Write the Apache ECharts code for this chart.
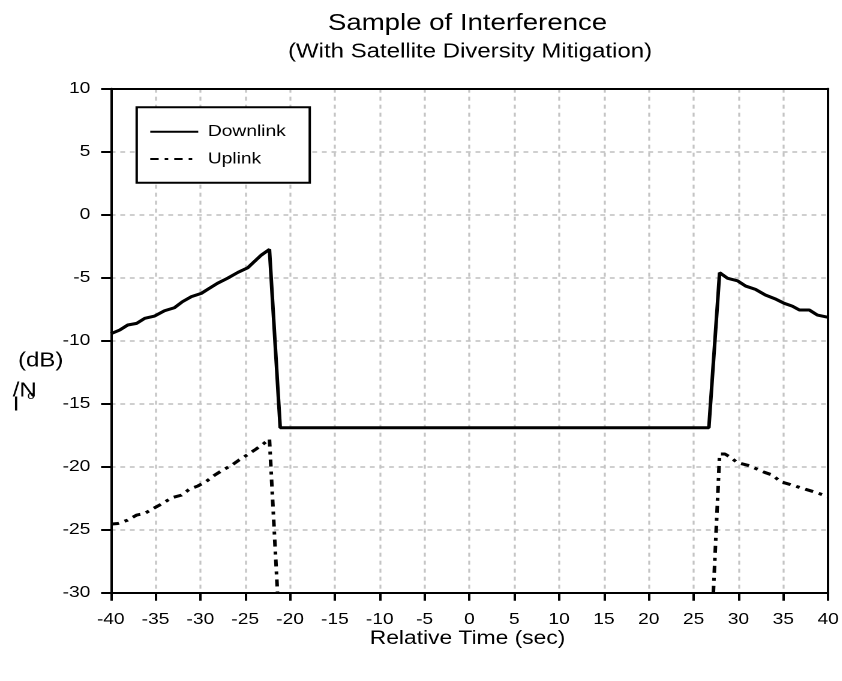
<!DOCTYPE html>
<html>
<head>
<meta charset="utf-8">
<title>Sample of Interference</title>
<script src="https://cdn.jsdelivr.net/npm/echarts@6/dist/echarts.min.js"></script>
<style>
  html, body { margin: 0; padding: 0; background: #fff; overflow: hidden; }
  /* The chart is laid out on a narrower canvas and widened 1.2x, giving the wide lettering of the plot. */
  #chart {
    position: absolute; left: 0; top: 0;
    width: 701.667px; height: 681px;
    transform: scaleX(1.2); transform-origin: 0 0;
  }
</style>
</head>
<body>
<div id="chart"></div>
<script>
// Relative time (sec) and I/No (dB) of the downlink trace
const downlinkTime  = [-40, -39.0, -38.1, -37.1, -36.2, -35.1, -34.0, -32.9, -32.0, -31.0,
                       -29.9, -29.0, -28.1, -27.0, -25.8, -24.7, -24.2, -23.2, -22.3, -21.1,
                       26.7, 27.9, 28.8, 29.9, 30.8, 31.9, 33.0, 34.2, 35.1, 36.0,
                       36.8, 37.9, 38.8, 40];
const downlinkLevel = [-9.45, -9.15, -8.75, -8.62, -8.22, -8.04, -7.62, -7.38, -6.9, -6.5,
                       -6.24, -5.84, -5.44, -5.05, -4.57, -4.2, -3.86, -3.2, -2.75, -16.9,
                       -16.9, -4.6, -5.05, -5.24, -5.66, -5.92, -6.37, -6.71, -7.03, -7.25,
                       -7.56, -7.56, -7.96, -8.14];

// Uplink trace: burst before the handover and burst after it
const uplinkEarlyTime  = [-40, -39.2, -38.1, -37.1, -36.2, -35.1, -34.2, -33.2, -32.1, -31.2,
                          -30.3, -29.4, -28.4, -27.5, -26.6, -25.7, -24.7, -23.8, -22.9, -22.3, -21.4];
const uplinkEarlyLevel = [-24.55, -24.5, -24.23, -23.83, -23.7, -23.25, -22.9, -22.46, -22.25, -21.77,
                          -21.53, -21.19, -20.66, -20.26, -19.92, -19.47, -19.02, -18.6, -18.14, -17.8, -30];
const uplinkLateTime   = [27.2, 27.9, 28.5, 29.0, 29.9, 31.0, 31.9, 32.9, 33.8, 34.7,
                          35.6, 36.6, 37.5, 38.4, 39.5, 40];
const uplinkLateLevel  = [-30, -18.99, -18.99, -19.2, -19.68, -19.87, -20.13, -20.44, -20.66, -21.19,
                          -21.37, -21.59, -21.79, -21.98, -22.25, -22.4];

// Axis ranges and tick spacing
const timeRange  = [-40, 40];
const levelRange = [-30, 10];
const tickStep   = 5;

const seriesNames = ['Downlink', 'Uplink'];
const titleText    = 'Sample of Interference';
const subtitleText = '(With Satellite Diversity Mitigation)';
const xAxisTitle   = 'Relative Time (sec)';

function zip(xs, ys) { return xs.map((x, i) => [x, ys[i]]); }

const downlinkData = zip(downlinkTime, downlinkLevel);
// a '-' entry breaks the uplink line between the two bursts
const uplinkData = zip(uplinkEarlyTime, uplinkEarlyLevel)
  .concat([[0, '-']])
  .concat(zip(uplinkLateTime, uplinkLateLevel));

const FONT = '"Liberation Sans", Arial, Helvetica, sans-serif';
const frameLine = { show: true, onZero: false, lineStyle: { color: '#000', width: 2 } };
const gridLine = { show: true, showMinLine: false, showMaxLine: false,
                   lineStyle: { color: '#c4c4c4', width: 1.6, type: [4, 4] } };
const tickLabel = { fontFamily: FONT, fontSize: 16, color: '#000', showMinLabel: true, showMaxLabel: true };

const chart = echarts.init(document.getElementById('chart'), null, { renderer: 'canvas', devicePixelRatio: 2 });

chart.setOption({
  animation: false,
  backgroundColor: '#fff',
  textStyle: { fontFamily: FONT, color: '#000' },
  grid: {
    left: 92.25, right: 9.17, top: 88.7, bottom: 88.2,
    show: false, containLabel: false
  },
  legend: {
    data: seriesNames,
    orient: 'vertical',
    left: 113.9, top: 107.3,
    padding: [16.4, 20, 15.7, 10.3],
    itemGap: 11.3,
    itemWidth: 40, itemHeight: 16,
    borderColor: '#000', borderWidth: 2,
    backgroundColor: '#fff',
    itemStyle: { color: 'transparent', borderColor: 'transparent', borderWidth: 0, opacity: 0 },
    textStyle: { fontFamily: FONT, fontSize: 16, color: '#000', padding: [0, 0, 0, 3] }
  },
  xAxis: [
    {
      type: 'value', position: 'bottom',
      min: timeRange[0], max: timeRange[1], interval: tickStep,
      axisLine: frameLine,
      axisTick: { show: true, inside: false, length: 8, lineStyle: { color: '#000', width: 2 } },
      axisLabel: Object.assign({ margin: 19 }, tickLabel),
      splitLine: gridLine
    },
    {
      // top edge of the frame
      type: 'value', position: 'top',
      min: timeRange[0], max: timeRange[1], interval: tickStep,
      axisLine: frameLine,
      axisTick: { show: false }, axisLabel: { show: false }, splitLine: { show: false }
    }
  ],
  yAxis: [
    {
      type: 'value', position: 'left',
      min: levelRange[0], max: levelRange[1], interval: tickStep,
      axisLine: frameLine,
      axisTick: { show: true, inside: false, length: 8, lineStyle: { color: '#000', width: 2 } },
      axisLabel: Object.assign({ margin: 17 }, tickLabel),
      splitLine: gridLine
    },
    {
      // right edge of the frame
      type: 'value', position: 'right',
      min: levelRange[0], max: levelRange[1], interval: tickStep,
      axisLine: frameLine,
      axisTick: { show: false }, axisLabel: { show: false }, splitLine: { show: false }
    }
  ],
  series: [
    {
      name: seriesNames[0],
      type: 'line',
      data: downlinkData,
      symbol: 'none',
      connectNulls: false,
      lineStyle: { color: '#000', width: 3, type: 'solid' },
      itemStyle: { color: '#000' },
      z: 5
    },
    {
      name: seriesNames[1],
      type: 'line',
      data: uplinkData,
      symbol: 'none',
      connectNulls: false,
      lineStyle: { color: '#000', width: 3, type: [7, 5, 3, 5] },
      itemStyle: { color: '#000' },
      z: 5
    }
  ],
  graphic: [
    { type: 'text', x: 389.6, y: 23.6, style: { text: titleText, font: '23px ' + FONT, fill: '#000', align: 'center', verticalAlign: 'middle' } },
    { type: 'text', x: 391.7, y: 52.2, style: { text: subtitleText, font: '20px ' + FONT, fill: '#000', align: 'center', verticalAlign: 'middle' } },
    { type: 'text', x: 389.6, y: 639, style: { text: xAxisTitle, font: '19px ' + FONT, fill: '#000', align: 'center', verticalAlign: 'middle' } },
    // y-axis caption I/No (dB), set as separate pieces
    { type: 'text', x: 15, y: 361, style: { text: '(dB)', font: '20px ' + FONT, fill: '#000', align: 'left', verticalAlign: 'middle' } },
    { type: 'text', x: 10.6, y: 391, style: { text: '/N', font: '20px ' + FONT, fill: '#000', align: 'left', verticalAlign: 'middle' } },
    { type: 'text', x: 25.8, y: 396, style: { text: 'o', font: '11px ' + FONT, fill: '#000', align: 'center', verticalAlign: 'middle' } },
    { type: 'text', x: 10.6, y: 405, style: { text: 'I', font: '20px ' + FONT, fill: '#000', align: 'left', verticalAlign: 'middle' } }
  ]
});
</script>
</body>
</html>
